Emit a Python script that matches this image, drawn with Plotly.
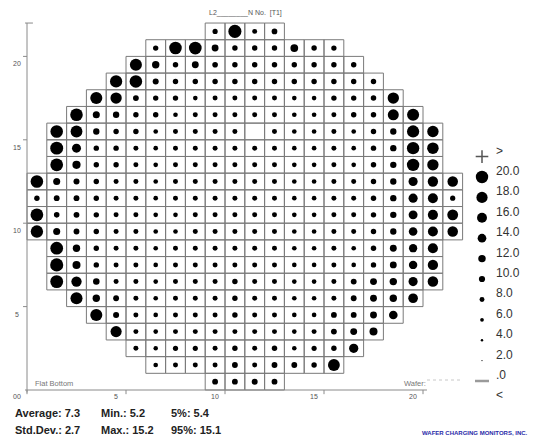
import plotly.graph_objects as go

# ---- wafer die readings (row 0 sits at the flat; values listed left to right) ----
first_col = [9, 6, 5, 4, 3, 2, 1, 1, 1, 0, 0, 0, 0, 1, 1, 1, 2, 3, 4, 5, 6, 9]

row_00 = [6.8, 6.8, 6.9, 6.8]
row_01 = [5.4, 5.8, 5.8, 5.8, 6.8, 5.8, 6.8, 6.8, 6.3, 13.8]
row_02 = [5.8, 5.2, 6.0, 6.0, 5.8, 6.3, 5.8, 6.3, 5.3, 6.0, 6.3, 10.8]
row_03 = [13.0, 5.8, 5.4, 5.8, 5.8, 5.8, 5.8, 5.8, 5.8, 5.4, 5.8, 6.8, 8.0, 9.3]
row_04 = [14.0, 7.0, 5.8, 5.4, 5.8, 5.8, 5.8, 6.3, 5.8, 5.8, 5.4, 5.4, 6.8, 6.8, 8.0, 10.0]
row_05 = [14.0, 8.6, 6.8, 5.8, 5.4, 5.8, 5.8, 5.8, 6.3, 5.8, 5.8, 5.4, 5.4, 5.8, 6.8, 8.0, 8.6, 11.2]
row_06 = [15.0, 12.0, 7.6, 5.8, 5.8, 5.4, 5.8, 5.8, 5.8, 6.3, 5.8, 5.8, 5.4, 5.4, 5.8, 6.8, 8.0, 8.6, 10.6, 12.2]
row_07 = [15.2, 9.3, 6.3, 5.8, 5.8, 5.4, 5.8, 5.8, 5.8, 5.8, 5.8, 5.8, 5.4, 5.4, 5.8, 5.4, 6.3, 8.0, 9.8, 12.0]
row_08 = [14.8, 8.6, 6.3, 5.8, 5.8, 5.4, 5.8, 5.8, 5.8, 5.8, 5.8, 5.8, 5.4, 5.4, 5.8, 5.4, 6.3, 8.0, 9.6, 11.8]
row_09 = [14.4, 8.2, 6.8, 6.3, 5.8, 5.8, 5.4, 5.4, 5.8, 5.8, 5.8, 5.8, 5.8, 5.4, 5.4, 5.8, 5.8, 6.3, 7.4, 10.0, 11.6, 12.2]
row_10 = [14.8, 6.5, 6.8, 6.3, 5.8, 5.8, 5.4, 5.4, 5.8, 5.8, 5.8, 5.8, 5.8, 5.4, 5.4, 5.8, 5.8, 6.3, 7.4, 10.4, 11.8, 12.6]
row_11 = [6.3, 6.8, 6.8, 6.3, 5.8, 5.8, 5.4, 5.8, 5.8, 5.8, 5.8, 5.8, 5.8, 5.4, 5.4, 5.8, 5.8, 6.3, 7.4, 10.6, 11.6, 6.0]
row_12 = [14.6, 8.2, 7.0, 6.3, 5.8, 5.8, 5.4, 5.8, 5.8, 5.8, 5.8, 5.8, 5.8, 5.4, 5.4, 5.8, 5.8, 6.3, 7.4, 10.6, 12.0, 12.2]
row_13 = [14.8, 9.5, 6.3, 6.3, 5.8, 5.4, 5.8, 5.8, 5.8, 5.8, 5.8, 5.8, 5.4, 5.4, 5.8, 5.4, 6.3, 7.4, 14.4, 13.2]
row_14 = [15.0, 10.5, 6.3, 6.3, 5.8, 5.4, 5.8, 5.8, 5.8, 5.8, 5.8, 5.8, 5.4, 5.4, 5.8, 5.4, 6.3, 7.4, 14.4, 13.4]
row_15 = [14.6, 13.8, 7.4, 6.3, 6.3, 5.4, 5.8, 5.8, 5.8, 5.8, None, 5.8, 5.4, 5.4, 5.8, 5.4, 6.3, 7.4, 14.2, 13.2]
row_16 = [14.6, 8.2, 7.4, 6.3, 6.3, 5.4, 5.8, 5.8, 5.8, 5.8, 5.8, 5.4, 5.4, 5.8, 6.3, 6.3, 12.8, 14.0]
row_17 = [14.0, 13.2, 6.8, 6.3, 6.3, 5.4, 5.8, 5.8, 5.8, 5.8, 5.4, 5.4, 6.3, 6.3, 6.4, 13.2]
row_18 = [14.2, 14.6, 7.0, 6.3, 6.3, 6.3, 6.3, 6.3, 6.3, 6.3, 6.3, 6.3, 6.3, 6.3]
row_19 = [14.0, 8.6, 6.3, 8.0, 6.5, 6.3, 6.3, 6.3, 6.3, 6.3, 6.3, 6.3]
row_20 = [6.2, 14.6, 14.8, 8.0, 6.3, 6.3, 6.3, 9.0, 6.3, 6.2]
row_21 = [6.0, 15.2, 5.8, 6.6]

rows = [row_00, row_01, row_02, row_03, row_04, row_05, row_06, row_07, row_08, row_09, row_10,
        row_11, row_12, row_13, row_14, row_15, row_16, row_17, row_18, row_19, row_20, row_21]

x_tick_vals = [0, 5, 10, 15, 20]
x_tick_text = ["00", "5", "10", "15", "20"]
y_tick_vals = [5, 10, 15, 20]
y_tick_text = ["5", "10", "15", "20"]

legend_values = [20.0, 18.0, 16.0, 14.0, 12.0, 10.0, 8.0, 6.0, 4.0, 2.0]
legend_text = ["20.0", "18.0", "16.0", "14.0", "12.0", "10.0", "8.0", "6.0", "4.0", "2.0"]
over_value, zero_value, under_value = 22.0, 0.0, -2.0

stats_row1 = ["Average: 7.3", "Min.: 5.2", "5%: 5.4"]
stats_row2 = ["Std.Dev.: 2.7", "Max.: 15.2", "95%: 15.1"]

# ---- layout constants ----
W, H = 547, 440
X0_PX, X_PX_PER_UNIT = 27.0, 19.8
Y0_PX, Y_PX_PER_UNIT = 390.0, 16.68
CELL_DOT_SCALE = 0.86      # marker diameter (px) per unit of reading
LEGEND_DOT_SCALE = 0.62
LEG_Y0_PX, LEG_PX_PER_UNIT = 381.0, 10.2
FONT = "Liberation Sans, Arial, sans-serif"
DOT_COLOR = "#000000"
GRID_COLOR = "#7a7a7a"
AXIS_COLOR = "#8a8a8a"

x_range = [-X0_PX / X_PX_PER_UNIT, (W - X0_PX) / X_PX_PER_UNIT]
y_range = [(Y0_PX - H) / Y_PX_PER_UNIT, Y0_PX / Y_PX_PER_UNIT]
y2_range = [(LEG_Y0_PX - H) / LEG_PX_PER_UNIT, LEG_Y0_PX / LEG_PX_PER_UNIT]


def paper(px, py):
    return px / W, 1 - py / H


# die outlines and dots
ox, oy = [], []
dx, dy, dv = [], [], []
for r, vals in enumerate(rows):
    c0 = first_col[r]
    for k, v in enumerate(vals):
        c = c0 + k
        ox += [c, c + 1, c + 1, c, c, None]
        oy += [r, r, r + 1, r + 1, r, None]
        if v is not None:
            dx.append(c + 0.5)
            dy.append(r + 0.5)
            dv.append(v)

fig = go.Figure()
fig.add_trace(go.Scatter(x=ox, y=oy, mode="lines",
                         line=dict(color=GRID_COLOR, width=1), hoverinfo="skip"))
fig.add_trace(go.Scatter(x=dx, y=dy, mode="markers",
                         marker=dict(size=[v * CELL_DOT_SCALE for v in dv], color=DOT_COLOR,
                                     opacity=1, line=dict(width=0)),
                         text=[f"{v:.1f}" for v in dv], hoverinfo="text"))

# size key on the right
leg_x = (482 - X0_PX) / X_PX_PER_UNIT
leg_label_x = (494 - X0_PX) / X_PX_PER_UNIT
fig.add_trace(go.Scatter(x=[leg_x] * len(legend_values), y=legend_values, yaxis="y2", mode="markers",
                         marker=dict(size=[v * LEGEND_DOT_SCALE for v in legend_values],
                                     color=DOT_COLOR, opacity=1, line=dict(width=0)),
                         hoverinfo="skip"))
fig.add_trace(go.Scatter(x=[leg_x], y=[over_value], yaxis="y2", mode="markers",
                         marker=dict(symbol="cross-thin", size=9, opacity=1,
                                     line=dict(color="#555555", width=1.5)),
                         hoverinfo="skip"))
fig.add_trace(go.Scatter(x=[leg_x], y=[zero_value], yaxis="y2", mode="markers",
                         marker=dict(symbol="line-ew", size=10, opacity=1,
                                     line=dict(color="#9a9a9a", width=2.5)),
                         hoverinfo="skip"))

annotations = []
for v, t in zip([over_value] + legend_values + [zero_value, under_value],
                [">"] + legend_text + [".0", "<"]):
    annotations.append(dict(x=leg_label_x, y=v, xref="x", yref="y2", text=t, showarrow=False,
                            xanchor="left", yanchor="middle", yshift=6,
                            font=dict(family=FONT, size=12, color="#333333")))

# axes drawn as thin lines with tiny labels
shapes = [
    dict(type="line", xref="x", yref="y", x0=0, y0=-0.15, x1=0, y1=22, line=dict(color=AXIS_COLOR, width=1)),
    dict(type="line", xref="x", yref="y", x0=-0.1, y0=22, x1=0.3, y1=22, line=dict(color=AXIS_COLOR, width=1)),
    dict(type="line", xref="x", yref="y", x0=-0.1, y0=0, x1=20.2, y1=0, line=dict(color=AXIS_COLOR, width=1)),
]
for t in y_tick_vals:
    shapes.append(dict(type="line", xref="x", yref="y", x0=-0.2, y0=t, x1=0, y1=t,
                       line=dict(color=AXIS_COLOR, width=1)))
for t in x_tick_vals:
    shapes.append(dict(type="line", xref="x", yref="y", x0=t, y0=0, x1=t, y1=-0.25,
                       line=dict(color=AXIS_COLOR, width=1)))

for t, s in zip(x_tick_vals, x_tick_text):
    annotations.append(dict(x=t - 0.5, y=-0.4, xref="x", yref="y", text=s, showarrow=False,
                            xanchor="center", yanchor="middle",
                            font=dict(family=FONT, size=7, color="#555555")))
for t, s in zip(y_tick_vals, y_tick_text):
    annotations.append(dict(x=-0.5, y=t - 0.45, xref="x", yref="y", text=s, showarrow=False,
                            xanchor="center", yanchor="middle",
                            font=dict(family=FONT, size=7, color="#555555")))

# header and corner captions
hx, hy = paper(245, 13)
annotations.append(dict(x=hx, y=hy, xref="paper", yref="paper", text="L2________N No.  [T1]",
                        showarrow=False, xanchor="center", yanchor="middle",
                        font=dict(family=FONT, size=7, color="#555555")))
fx, fy = paper(33, 383)
annotations.append(dict(x=fx, y=fy, xref="paper", yref="paper", text="Flat Bottom", showarrow=False,
                        xanchor="left", yanchor="middle", font=dict(family=FONT, size=7.5, color="#777777")))
wx, wy = paper(402, 383)
annotations.append(dict(x=wx, y=wy, xref="paper", yref="paper", text="Wafer:", showarrow=False,
                        xanchor="left", yanchor="middle", font=dict(family=FONT, size=7.5, color="#777777")))
shapes.append(dict(type="line", xref="paper", yref="paper",
                   x0=427 / W, y0=1 - 380 / H, x1=460 / W, y1=1 - 380 / H,
                   line=dict(color="#c8c8c8", width=1, dash="dot")))

# summary statistics
for row_texts, py in ((stats_row1, 413), (stats_row2, 430)):
    for t, px in zip(row_texts, (13, 99, 169)):
        ax, ay = paper(px, py)
        annotations.append(dict(x=ax, y=ay, xref="paper", yref="paper", text=f"<b>{t}</b>",
                                showarrow=False, xanchor="left", yanchor="middle",
                                font=dict(family=FONT, size=11, color="#222222")))

cx, cy = paper(530, 433)
annotations.append(dict(x=cx, y=cy, xref="paper", yref="paper",
                        text="<b>WAFER CHARGING MONITORS, INC.</b>", showarrow=False,
                        xanchor="right", yanchor="middle",
                        font=dict(family=FONT, size=6, color="#2a2aa8")))

fig.update_layout(
    width=W, height=H, autosize=False,
    margin=dict(l=0, r=0, t=0, b=0, pad=0),
    paper_bgcolor="white", plot_bgcolor="white",
    showlegend=False,
    xaxis=dict(range=x_range, visible=False, fixedrange=True),
    yaxis=dict(range=y_range, visible=False, fixedrange=True),
    yaxis2=dict(range=y2_range, visible=False, overlaying="y", fixedrange=True),
    shapes=shapes,
    annotations=annotations,
)

fig.write_html("out.html", config={"displayModeBar": False})
